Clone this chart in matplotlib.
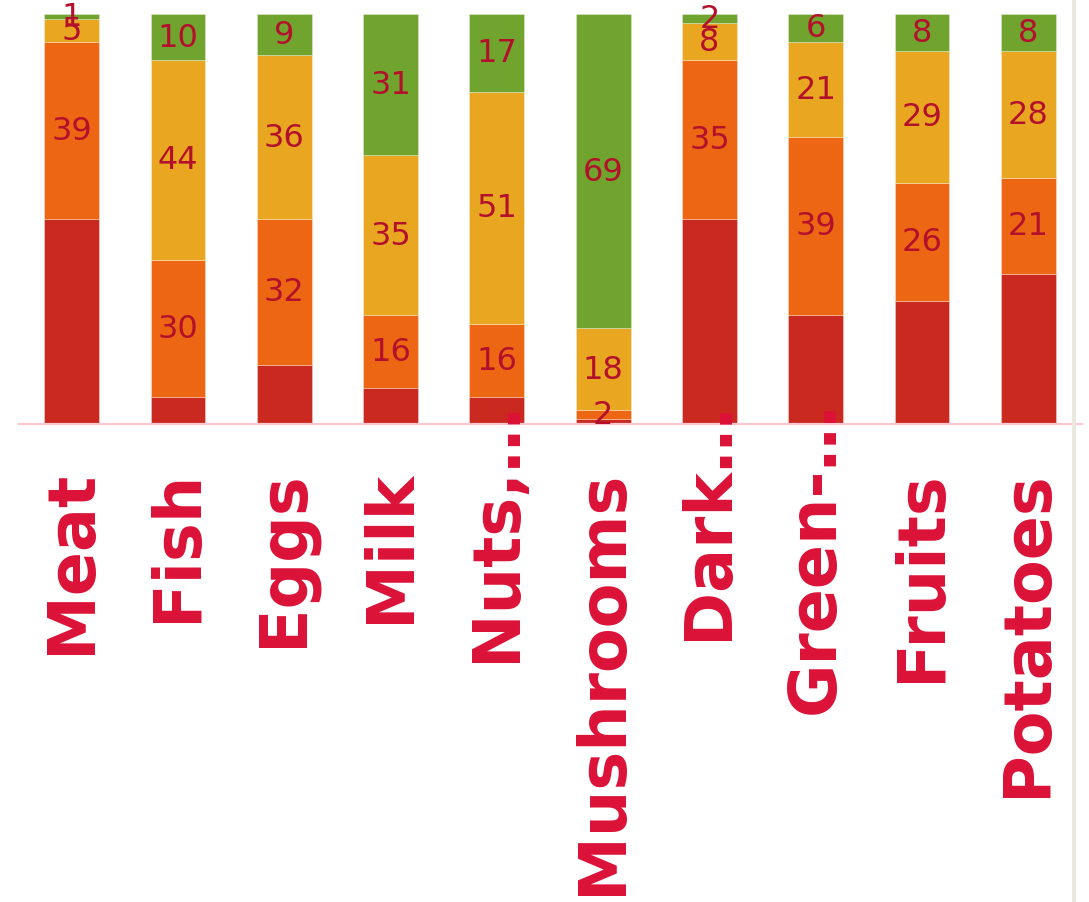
import matplotlib
matplotlib.use("Agg")
import matplotlib.pyplot as plt
import matplotlib.transforms as mtransforms
from matplotlib.lines import Line2D
import numpy as np

categories = ["Meat", "Fish", "Eggs", "Milk", "Nuts,…", "Mushrooms",
              "Dark…", "Green-…", "Fruits", "Potatoes"]
truncated = [False, False, False, False, True, False, True, True, False, False]
red = [45, 6, 13, 8, 6, 1, 45, 24, 27, 33]
orange = [39, 30, 32, 16, 16, 2, 35, 39, 26, 21]
yellow = [5, 44, 36, 35, 51, 18, 8, 21, 29, 28]
green = [1, 10, 9, 31, 17, 69, 2, 6, 8, 8]

series = [red, orange, yellow, green]
colors = ["#c9291e", "#ec6613", "#e9a620", "#71a32f"]
show_labels = [False, True, True, True]

W, H, DPI = 1089, 903, 100
fig = plt.figure(figsize=(W / DPI, H / DPI), dpi=DPI)
fig.patch.set_facecolor("white")
left_px, right_px, top_px, bottom_px = 18.5, 1081.5, 15.3, 425
ax = fig.add_axes([left_px / W, 1 - bottom_px / H,
                   (right_px - left_px) / W, (bottom_px - top_px) / H])

x = np.arange(len(categories))
totals = np.sum(np.array(series), axis=0)
bottom = np.zeros(len(categories))
for vals, col, lab in zip(series, colors, show_labels):
    vals = np.array(vals, dtype=float)
    ax.bar(x, vals, bottom=bottom, width=0.515, color=col,
           edgecolor=(1, 1, 1, 0.35), linewidth=0.6, zorder=2)
    if lab:
        for xi, v, b in zip(x, vals, bottom):
            ax.text(xi, b + v / 2, f"{int(v)}", ha="center", va="center",
                    fontsize=23, color="#b3102c", zorder=4,
                    family="DejaVu Sans")
    bottom += vals

ax.set_xlim(-0.5, len(categories) - 0.5)
ax.set_ylim(0, totals.max())
for s in ["top", "right", "left"]:
    ax.spines[s].set_visible(False)
ax.spines["bottom"].set_color("#f9c8d0")
ax.spines["bottom"].set_linewidth(1.6)
ax.spines["bottom"].set_zorder(3)
ax.set_yticks([])
ax.set_xticks([])

base = mtransforms.blended_transform_factory(ax.transData, ax.transAxes)
for xi, name, tr in zip(x, categories, truncated):
    dy = 24 if tr else -45
    t = base + mtransforms.ScaledTranslation(0, dy / DPI, fig.dpi_scale_trans)
    ax.text(xi, 0, name, transform=t, rotation=90, ha="center", va="top",
            fontsize=47, fontweight="bold", color="#dc1237",
            family="DejaVu Sans", clip_on=False, zorder=5)

fig.add_artist(Line2D([1074 / W, 1074 / W], [0, 1], transform=fig.transFigure,
                      color="#ece8df", linewidth=2.9))

fig.savefig("out.png", dpi=DPI)
